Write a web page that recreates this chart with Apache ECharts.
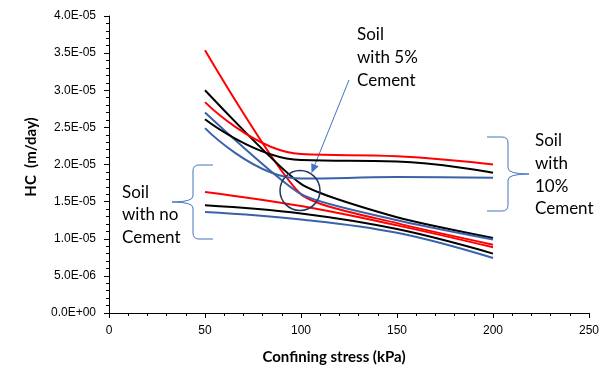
<!DOCTYPE html>
<html>
<head>
<meta charset="utf-8">
<script src="https://cdn.jsdelivr.net/npm/echarts@6/dist/echarts.min.js"></script>
<style>
html,body{margin:0;padding:0;background:#fff;}
#c{width:608px;height:372px;}
</style>
</head>
<body>
<div id="c"></div>
<script>
// Confining stress (kPa)
var stress = [50, 100, 150, 200];
// Hydraulic conductivity (m/day)
var red10   = [2.84e-5, 2.14e-5, 2.11e-5, 2.00e-5];
var black10 = [2.61e-5, 2.06e-5, 2.04e-5, 1.89e-5];
var blue10  = [2.49e-5, 1.81e-5, 1.83e-5, 1.82e-5];
var red5    = [3.54e-5, 1.60e-5, 1.21e-5, 0.92e-5];
var black5  = [3.00e-5, 1.74e-5, 1.29e-5, 1.01e-5];
var blue5   = [2.70e-5, 1.60e-5, 1.25e-5, 0.99e-5];
var red0    = [1.63e-5, 1.44e-5, 1.18e-5, 0.885e-5];
var black0  = [1.45e-5, 1.34e-5, 1.13e-5, 0.80e-5];
var blue0   = [1.36e-5, 1.26e-5, 1.08e-5, 0.74e-5];
var xTicks = [0, 50, 100, 150, 200, 250];
var yTickLabels = ['0.0E+00','5.0E-06','1.0E-05','1.5E-05','2.0E-05','2.5E-05','3.0E-05','3.5E-05','4.0E-05'];

function pairs(ys){ return stress.map(function(x,i){ return [x, ys[i]]; }); }
var RED = '#FF0000', BLACK = '#000000', BLUE = '#3A62AA';
function ser(ys, color, sm){
  return {type:'line', data:pairs(ys), smooth:sm, symbol:'none',
          lineStyle:{color:color, width:2}, itemStyle:{color:color}, z:3};
}
function fmtY(v){
  var idx = Math.round(v / 5e-6);
  return yTickLabels[idx] !== undefined ? yTickLabels[idx] : '';
}
var braceColor = '#4472C4';
function brace(pts){
  return pts.map(function(s){
    if (s[0] === 'L') return {type:'line', shape:{x1:s[1],y1:s[2],x2:s[3],y2:s[4]}, style:{stroke:braceColor,lineWidth:1}};
    return {type:'bezierCurve', shape:{x1:s[1],y1:s[2],cpx1:s[3],cpy1:s[4],x2:s[5],y2:s[6]}, style:{stroke:braceColor,lineWidth:1,fill:null}};
  });
}
var leftBrace = brace([
  ['L',213,165,199,165],['Q',199,165,193,165,193,171],['L',193,171,193,196],
  ['Q',193,196,193,202,172,202],['Q',172,202,193,202,193,208],['L',193,208,193,233],
  ['Q',193,233,193,239,199,239],['L',199,239,213,239]
]);
var rightBrace = brace([
  ['L',487,137,502,137],['Q',502,137,508,137,508,143],['L',508,143,508,168],
  ['Q',508,168,508,174,529,174],['Q',529,174,508,174,508,180],['L',508,180,508,205],
  ['Q',508,205,508,211,502,211],['L',502,211,487,211]
]);
function txt(x, y, t){ return {type:'text', x:x, y:y, style:{text:t, font:'17px Lato', fill:'#000', textVerticalAlign:'middle'}}; }

var chart = echarts.init(document.getElementById('c'), null, {renderer:'canvas'});
var option = {
  animation:false,
  backgroundColor:'#ffffff',
  grid:{left:109, right:19, top:16, bottom:59, containLabel:false},
  xAxis:{type:'value', min:xTicks[0], max:xTicks[xTicks.length-1], interval:50,
    axisLine:{onZero:false, lineStyle:{color:'#000', width:1}},
    axisTick:{show:true, length:5, lineStyle:{color:'#000'}},
    minorTick:{show:true, splitNumber:5, length:3, lineStyle:{color:'#000'}},
    splitLine:{show:false},
    axisLabel:{color:'#000', fontFamily:'Liberation Sans', fontSize:12, margin:12}
  },
  yAxis:{type:'value', min:0, max:4e-5, interval:5e-6,
    axisLine:{show:true, lineStyle:{color:'#000', width:1}},
    axisTick:{show:true, length:5, lineStyle:{color:'#000'}},
    minorTick:{show:true, splitNumber:5, length:3, lineStyle:{color:'#000'}},
    splitLine:{show:false},
    axisLabel:{color:'#000', fontFamily:'Liberation Sans', fontSize:12, margin:13, formatter:fmtY}
  },
  series:[
    ser(red0, RED, 0.4), ser(black0, BLACK, 0.4), ser(blue0, BLUE, 0.4),
    ser(red5, RED, 0.2), ser(black5, BLACK, 0.2), ser(blue5, BLUE, 0.2),
    ser(red10, RED, 0.45), ser(black10, BLACK, 0.45), ser(blue10, BLUE, 0.45)
  ],
  graphic:[
    {type:'text', x:31, y:157, rotation:Math.PI/2,
      style:{text:'HC  (m/day)', font:'bold 15px Lato', fill:'#000', textAlign:'center', textVerticalAlign:'middle'}},
    {type:'text', x:334, y:357,
      style:{text:'Confining stress (kPa)', font:'bold 15px Lato', fill:'#000', textAlign:'center', textVerticalAlign:'middle'}},
    txt(357,35,'Soil'), txt(357,58,'with 5%'), txt(357,81,'Cement'),
    {type:'line', shape:{x1:349, y1:80, x2:314.9, y2:164.7}, style:{stroke:braceColor, lineWidth:1}},
    {type:'polygon', shape:{points:[[311.5,173],[318.6,166.2],[311.2,163.2]]}, style:{fill:braceColor}},
    {type:'circle', shape:{cx:300, cy:190.5, r:20}, style:{stroke:'#1F3864', lineWidth:1.5, fill:null}, z:10},
    txt(122,193,'Soil'), txt(122,215,'with no'), txt(122,238,'Cement'),
    txt(535,141,'Soil'), txt(535,164,'with'), txt(535,187,'10%'), txt(535,209,'Cement')
  ].concat(leftBrace, rightBrace)
};
chart.setOption(option);
</script>
</body>
</html>
